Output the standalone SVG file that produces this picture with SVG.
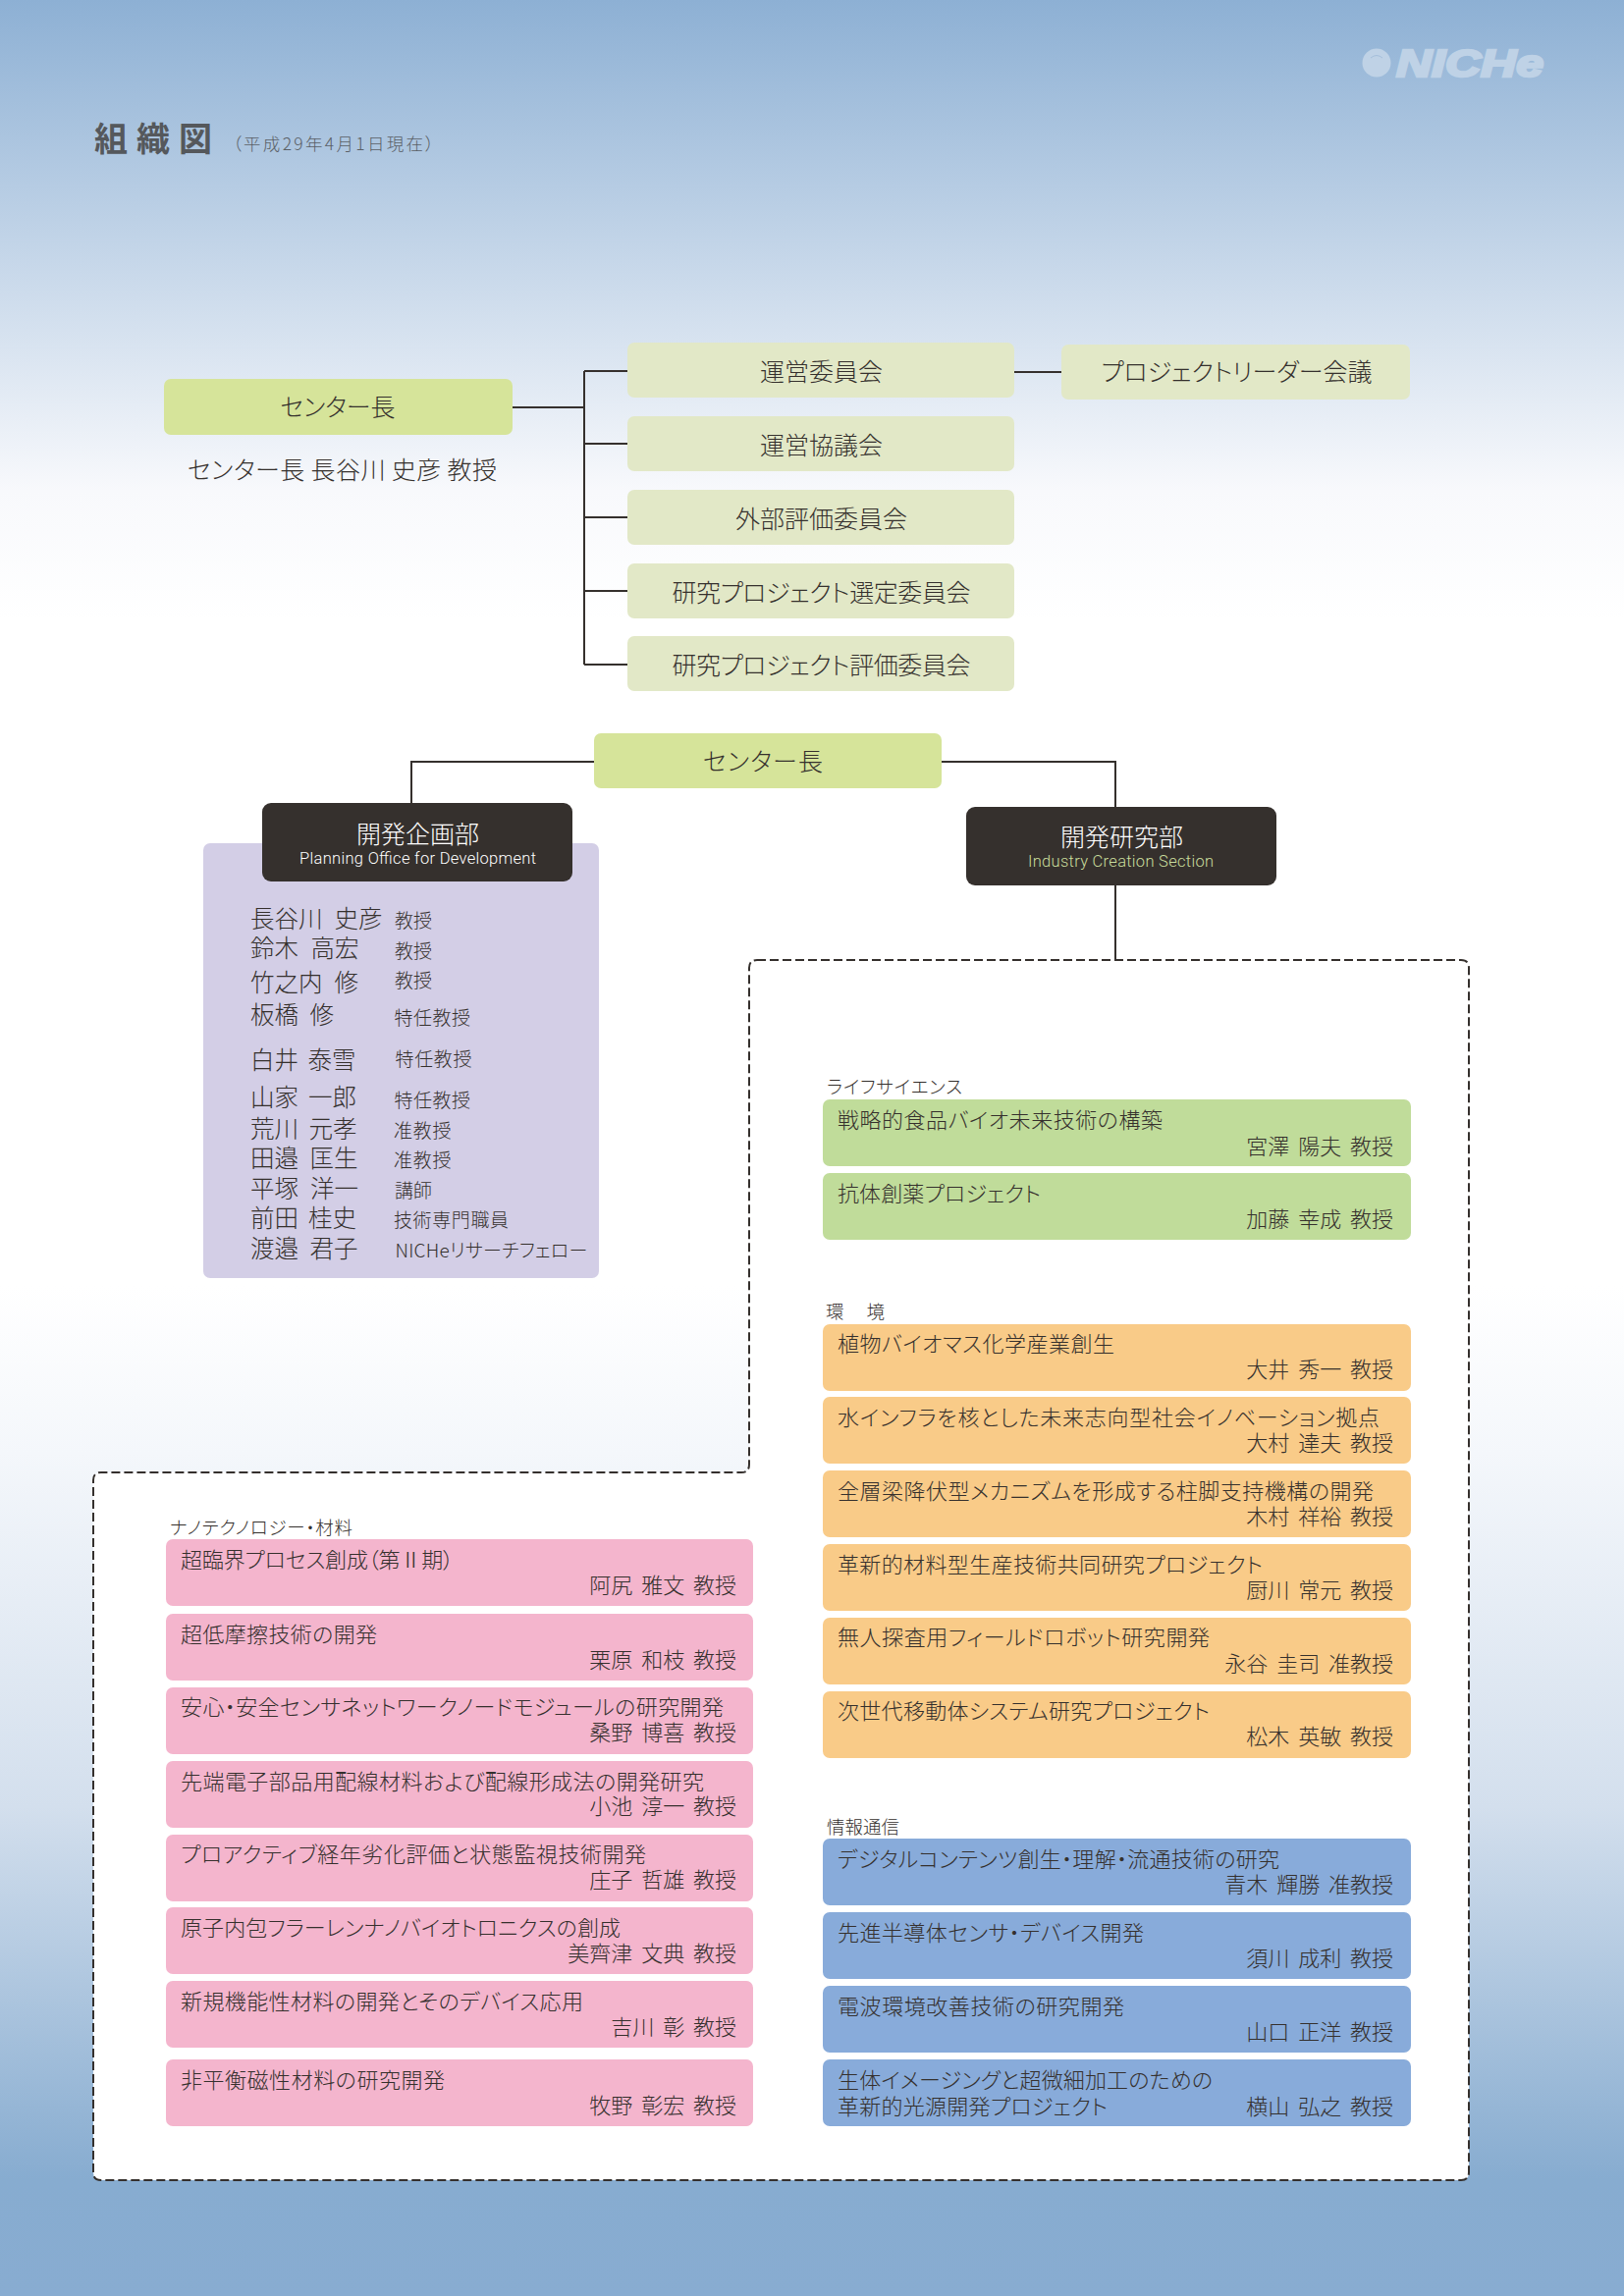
<svg xmlns="http://www.w3.org/2000/svg" width="1654" height="2339" viewBox="0 0 1654 2339">
<defs>
<linearGradient id="bg" x1="0" y1="0" x2="0" y2="1">
<stop offset="0" stop-color="#8db0d4"/>
<stop offset="0.214" stop-color="#f8f9fc"/>
<stop offset="0.27" stop-color="#ffffff"/>
<stop offset="0.56" stop-color="#ffffff"/>
<stop offset="0.633" stop-color="#f4f7fb"/>
<stop offset="0.787" stop-color="#d3dfed"/>
<stop offset="0.949" stop-color="#87acd0"/>
<stop offset="1" stop-color="#88acd1"/>
</linearGradient>
</defs>
<style>
text{font-family:"Noto Sans CJK JP","Noto Sans",sans-serif;font-weight:300;fill:#35302d;font-size:22px;font-feature-settings:"palt"}
.c{font-size:25px;text-anchor:middle}
.t{font-size:22px}
.n{font-size:22px;text-anchor:end;word-spacing:4px;font-feature-settings:normal}
.k{font-size:18.5px}
.p{font-size:24.5px;font-feature-settings:normal}
.r{font-size:19px;font-feature-settings:normal}
.e{font-family:"Roboto","Liberation Sans",sans-serif;font-size:16.5px;text-anchor:middle}
.w{fill:#ffffff}
.top{fill:#d6e49a}.com{fill:#e2e8c7}.dark{fill:#35302d}.lil{fill:#d3cee6}
.gr{fill:#c0dc9a}.or{fill:#f9cb88}.pk{fill:#f4b5cd}.bl{fill:#88abda}
.ln{fill:none;stroke:#35302d;stroke-width:2}
</style>
<rect width="1654" height="2339" fill="url(#bg)"/>
<g id="logo"><circle cx="1402" cy="64" r="14.5" fill="#bfd2e6"/><path d="M1396,59q6,-5 12,0" fill="none" stroke="#a5bfdb" stroke-width="1"/>
<text x="1422" y="77.5" textLength="150" lengthAdjust="spacingAndGlyphs" style="font-family:'Liberation Sans',sans-serif;font-weight:700;font-style:italic;font-size:38px;fill:#bfd2e6;stroke:#bfd2e6;stroke-width:2.5">NICHe</text></g>
<g id="title"><text x="96" y="154" style="font-size:34px;font-weight:700;letter-spacing:9px;fill:#55585c">組織図</text>
<text x="237" y="153" textLength="205" style="font-size:17.5px;fill:#5a5f66">（平成29年4月1日現在）</text></g>
<g id="outline"><path class="ln" d="M771,978H1488Q1496,978 1496,986V2213Q1496,2221 1488,2221H103Q95,2221 95,2213V1508Q95,1500 103,1500H755Q763,1500 763,1492V986Q763,978 771,978Z" style="fill:#fff;stroke-dasharray:9 4"/></g>
<g id="connectors">
<path class="ln" d="M522,415H595M595,378V677M595,378H639M595,452H639M595,527H639M595,602H639M595,677H639M1033,379H1081"/>
<path class="ln" d="M605,776H419V818M959,776H1136V822M1136,902V978"/>
</g>
<g id="director1"><rect class="top" x="167" y="386" width="355" height="57" rx="7"/><text class="c" x="344" y="423.5" textLength="117">センター長</text></g>
<g id="director1-name"><text x="191" y="487.7" textLength="315" style="font-size:25px">センター長 長谷川 史彦 教授</text></g>
<g id="com1"><rect class="com" x="639" y="349" width="394" height="56" rx="7"/><text class="c" x="836.5" y="388">運営委員会</text></g>
<g id="com2"><rect class="com" x="639" y="424" width="394" height="56" rx="7"/><text class="c" x="836.5" y="463">運営協議会</text></g>
<g id="com3"><rect class="com" x="639" y="499" width="394" height="56" rx="7"/><text class="c" x="836.5" y="538">外部評価委員会</text></g>
<g id="com4"><rect class="com" x="639" y="574" width="394" height="56" rx="7"/><text class="c" x="836.5" y="613" textLength="304">研究プロジェクト選定委員会</text></g>
<g id="com5"><rect class="com" x="639" y="648" width="394" height="56" rx="7"/><text class="c" x="836.5" y="687" textLength="304">研究プロジェクト評価委員会</text></g>
<g id="com6"><rect class="com" x="1081" y="351" width="355" height="56" rx="7"/><text class="c" x="1259.5" y="388" textLength="276">プロジェクトリーダー会議</text></g>
<g id="director2"><rect class="top" x="605" y="747" width="354" height="56" rx="7"/><text class="c" x="777" y="785" textLength="122">センター長</text></g>
<g id="planning-members"><rect class="lil" x="207" y="859" width="403" height="443" rx="7"/>
<text class="p" x="255" y="944.5">長谷川 <tspan x="340.5">史彦</tspan></text><text class="p" x="255" y="975">鈴木 <tspan x="316.5">高宏</tspan></text><text class="p" x="255" y="1010">竹之内 <tspan x="340.5">修</tspan></text><text class="p" x="255" y="1043">板橋 <tspan x="315.5">修</tspan></text><text class="p" x="255" y="1088.5">白井 <tspan x="313.5">泰雪</tspan></text><text class="p" x="255" y="1127">山家 <tspan x="314">一郎</tspan></text><text class="p" x="255" y="1158.5">荒川 <tspan x="314.5">元孝</tspan></text><text class="p" x="255" y="1189">田邉 <tspan x="315.5">匡生</tspan></text><text class="p" x="255" y="1220">平塚 <tspan x="316">洋一</tspan></text><text class="p" x="255" y="1250">前田 <tspan x="314">桂史</tspan></text><text class="p" x="255" y="1281">渡邉 <tspan x="315.5">君子</tspan></text>
<text class="r" x="402" y="944.5">教授</text><text class="r" x="402" y="975.5">教授</text><text class="r" x="402" y="1005.5">教授</text><text class="r" x="401.6" y="1043.5" textLength="77.5">特任教授</text><text class="r" x="402.5" y="1086" textLength="78">特任教授</text><text class="r" x="401.6" y="1127.5" textLength="77.5">特任教授</text><text class="r" x="401" y="1159" textLength="58.5">准教授</text><text class="r" x="401" y="1188.5" textLength="58.5">准教授</text><text class="r" x="402" y="1220">講師</text><text class="r" x="401" y="1249.5" textLength="117">技術専門職員</text><text class="r" x="402.4" y="1280.5" textLength="196" style="font-feature-settings:'palt'">NICHeリサーチフェロー</text></g>
<g id="planning"><rect class="dark" x="267" y="818" width="316" height="80" rx="9"/><text class="c w" x="425.6" y="859">開発企画部</text><text class="e w" x="425.5" y="880" textLength="241">Planning Office for Development</text></g>
<g id="research"><rect class="dark" x="984" y="822" width="316" height="80" rx="9"/><text class="c w" x="1142.5" y="862">開発研究部</text><text class="e" style="fill:#c9dd9c" x="1141.5" y="883" textLength="189">Industry Creation Section</text></g>
<g id="cat-life"><text class="k" x="842" y="1114" textLength="138">ライフサイエンス</text></g>
<g id="life1"><rect class="gr" x="838" y="1120" width="599" height="68" rx="7"/><text class="t" x="853" y="1149" textLength="331">戦略的食品バイオ未来技術の構築</text><text class="n" x="1419" y="1176">宮澤 陽夫 教授</text></g>
<g id="life2"><rect class="gr" x="838" y="1195" width="599" height="68" rx="7"/><text class="t" x="853" y="1224" textLength="207">抗体創薬プロジェクト</text><text class="n" x="1419" y="1249.5">加藤 幸成 教授</text></g>
<g id="cat-env"><text class="k" x="841" y="1343" textLength="60">環　境</text></g>
<g id="env1"><rect class="or" x="838" y="1349" width="599" height="68" rx="7"/><text class="t" x="853" y="1377" textLength="282">植物バイオマス化学産業創生</text><text class="n" x="1419" y="1403">大井 秀一 教授</text></g>
<g id="env2"><rect class="or" x="838" y="1423" width="599" height="68" rx="7"/><text class="t" x="853" y="1452" textLength="552">水インフラを核とした未来志向型社会イノベーション拠点</text><text class="n" x="1419" y="1478">大村 達夫 教授</text></g>
<g id="env3"><rect class="or" x="838" y="1498" width="599" height="68" rx="7"/><text class="t" x="853" y="1527" textLength="546">全層梁降伏型メカニズムを形成する柱脚支持機構の開発</text><text class="n" x="1419" y="1553">木村 祥裕 教授</text></g>
<g id="env4"><rect class="or" x="838" y="1573" width="599" height="68" rx="7"/><text class="t" x="853" y="1602" textLength="433">革新的材料型生産技術共同研究プロジェクト</text><text class="n" x="1419" y="1628">厨川 常元 教授</text></g>
<g id="env5"><rect class="or" x="838" y="1648" width="599" height="68" rx="7"/><text class="t" x="853" y="1676" textLength="379">無人探査用フィールドロボット研究開発</text><text class="n" x="1419" y="1703">永谷 圭司 准教授</text></g>
<g id="env6"><rect class="or" x="838" y="1723" width="599" height="68" rx="7"/><text class="t" x="853" y="1751" textLength="379">次世代移動体システム研究プロジェクト</text><text class="n" x="1419" y="1776.5">松木 英敏 教授</text></g>
<g id="cat-info"><text class="k" x="842" y="1868">情報通信</text></g>
<g id="info1"><rect class="bl" x="838" y="1873" width="599" height="68" rx="7"/><text class="t" x="853" y="1901.5" textLength="450">デジタルコンテンツ創生・理解・流通技術の研究</text><text class="n" x="1419" y="1927.5">青木 輝勝 准教授</text></g>
<g id="info2"><rect class="bl" x="838" y="1948" width="599" height="68" rx="7"/><text class="t" x="853" y="1976.5" textLength="312">先進半導体センサ・デバイス開発</text><text class="n" x="1419" y="2002.5">須川 成利 教授</text></g>
<g id="info3"><rect class="bl" x="838" y="2023" width="599" height="68" rx="7"/><text class="t" x="853" y="2051.5" textLength="292">電波環境改善技術の研究開発</text><text class="n" x="1419" y="2077.5">山口 正洋 教授</text></g>
<g id="info4"><rect class="bl" x="838" y="2098" width="599" height="68" rx="7"/><text class="t" x="853" y="2126.5" textLength="382">生体イメージングと超微細加工のための</text><text class="t" x="853" y="2154" textLength="275">革新的光源開発プロジェクト</text><text class="n" x="1419" y="2154">横山 弘之 教授</text></g>
<g id="cat-nano"><text class="k" x="173" y="1563" textLength="186">ナノテクノロジー・材料</text></g>
<g id="nano1"><rect class="pk" x="169" y="1568" width="598" height="68" rx="7"/><text class="t" x="184" y="1597" textLength="278">超臨界プロセス創成（第Ⅱ期）</text><text class="n" x="750" y="1623">阿尻 雅文 教授</text></g>
<g id="nano2"><rect class="pk" x="169" y="1644" width="598" height="68" rx="7"/><text class="t" x="184" y="1673" textLength="200">超低摩擦技術の開発</text><text class="n" x="750" y="1699">栗原 和枝 教授</text></g>
<g id="nano3"><rect class="pk" x="169" y="1719" width="598" height="68" rx="7"/><text class="t" x="184" y="1747" textLength="553">安心・安全センサネットワークノードモジュールの研究開発</text><text class="n" x="750" y="1772.5">桑野 博喜 教授</text></g>
<g id="nano4"><rect class="pk" x="169" y="1794" width="598" height="68" rx="7"/><text class="t" x="184" y="1823" textLength="533">先端電子部品用配線材料および配線形成法の開発研究</text><text class="n" x="750" y="1848">小池 淳一 教授</text></g>
<g id="nano5"><rect class="pk" x="169" y="1869" width="598" height="68" rx="7"/><text class="t" x="184" y="1897" textLength="474">プロアクティブ経年劣化評価と状態監視技術開発</text><text class="n" x="750" y="1923">庄子 哲雄 教授</text></g>
<g id="nano6"><rect class="pk" x="169" y="1943" width="598" height="68" rx="7"/><text class="t" x="184" y="1972" textLength="448">原子内包フラーレンナノバイオトロニクスの創成</text><text class="n" x="750" y="1998">美齊津 文典 教授</text></g>
<g id="nano7"><rect class="pk" x="169" y="2018" width="598" height="68" rx="7"/><text class="t" x="184" y="2047" textLength="410">新規機能性材料の開発とそのデバイス応用</text><text class="n" x="750" y="2073">吉川 彰 教授</text></g>
<g id="nano8"><rect class="pk" x="169" y="2098" width="598" height="68" rx="7"/><text class="t" x="184" y="2126.5" textLength="269">非平衡磁性材料の研究開発</text><text class="n" x="750" y="2153">牧野 彰宏 教授</text></g>
</svg>
